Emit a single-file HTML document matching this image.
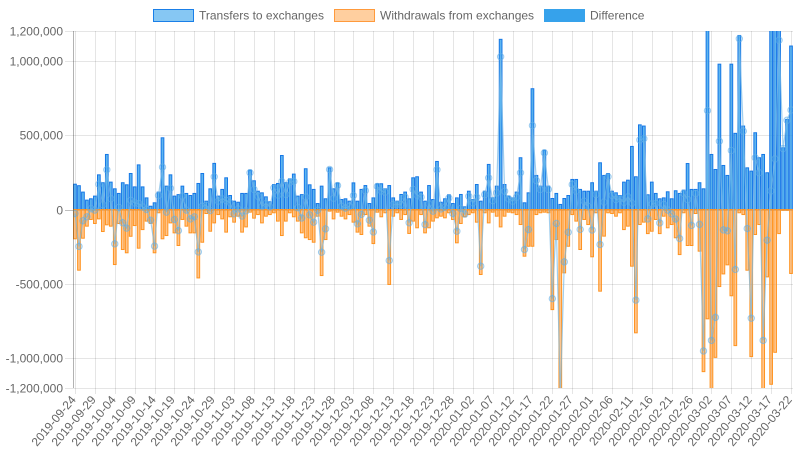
<!DOCTYPE html>
<html><head><meta charset="utf-8"><style>
html,body{margin:0;padding:0;background:#fff;}
svg{display:block;font-family:"Liberation Sans",sans-serif;}
</style></head><body>
<svg id="chart" width="798" height="450">
<g id="legend">
 <g><rect x="153.5" y="9.5" width="40" height="12" fill="rgba(54,162,235,0.6)" stroke="#1a7fe8" stroke-width="1"/><text x="199" y="19.5" font-size="12" fill="#666">Transfers to exchanges</text></g>
 <g><rect x="334.5" y="9.5" width="40" height="12" fill="rgba(255,159,64,0.5)" stroke="#ff9a3c" stroke-width="1"/><text x="380" y="19.5" font-size="12" fill="#666">Withdrawals from exchanges</text></g>
 <g><rect x="544.5" y="9.5" width="40" height="12" fill="#36a2eb" stroke="#36a2eb" stroke-width="1"/><text x="590" y="19.5" font-size="12" fill="#666">Difference</text></g>
</g>
<g id="grid"></g>
<g id="marks"></g>
<g id="axes"></g>
</svg>
<script>
const transfers=[170,160,117,63,72,90,233,180,370,184,139,108,180,166,242,152,300,152,78,22,45,117,482,157,233,90,100,157,108,94,108,175,
242,56,139,310,90,135,213,94,56,49,108,108,265,193,123,112,85,52,168,175,363,180,206,238,90,100,274,166,135,40,157,
72,280,139,179,67,72,56,179,56,135,161,40,78,173,173,139,161,78,56,101,
117,72,213,220,117,56,161,67,323,49,72,99,40,78,101,18,123,67,168,
56,123,303,78,157,1144,168,90,78,117,348,45,112,812,229,157,399,157,74,108,34,74,94,202,202,135,123,123,
180,123,314,229,242,123,112,94,184,197,424,220,569,561,99,184,108,72,78,119,72,126,108,130,309,135,
135,180,139,1400,370,269,977,296,229,977,512,1170,561,280,258,516,348,370,247,1300,1300,1300,415,605,1099];
const withdrawals=[197,408,193,112,67,94,63,148,103,112,370,94,269,291,180,108,260,135,78,94,291,22,197,175,90,157,242,67,112,157,157,460,
220,27,146,90,34,63,152,49,85,45,152,117,18,58,34,90,45,34,22,78,175,78,22,49,78,157,190,202,220,45,444,
202,11,63,18,45,63,34,85,152,168,34,112,229,18,49,22,504,45,22,67,
34,161,78,123,34,157,123,78,56,45,56,22,67,224,94,49,34,22,85,
437,22,90,18,45,117,45,18,22,34,101,314,247,247,34,22,18,22,673,202,1300,426,247,34,78,269,67,101,
318,22,549,179,22,27,45,22,135,112,381,829,101,85,162,146,67,162,45,123,101,190,303,22,242,242,
27,280,1090,735,1250,994,518,433,372,580,915,22,34,408,989,168,101,1250,453,1175,960,162,5,5,430];
const startDate=[2019,8,24];
const yTicks=[-1200000,-1000000,-500000,0,500000,1000000,1200000];
const yTickLabels=["-1,200,000","-1,000,000","-500,000","0","500,000","1,000,000","1,200,000"];

const NS="http://www.w3.org/2000/svg";
const L=73,R=793,T=31,B=388,YMIN=-1200000,YMAX=1200000;
const N=transfers.length;
const bw=(R-L)/N;
function xPos(i){return L+(i+0.5)*bw;}
function yPos(v){return B-(v-YMIN)/(YMAX-YMIN)*(B-T);}
function mk(tag,attrs,parent){const e=document.createElementNS(NS,tag);for(const k in attrs)e.setAttribute(k,attrs[k]);parent.appendChild(e);return e;}
const grid=document.getElementById('grid'),marks=document.getElementById('marks'),axes=document.getElementById('axes');
const svg=document.getElementById('chart');
const defs=mk('defs',{},svg);const cp=mk('clipPath',{id:'plotclip'},defs);mk('rect',{x:L,y:T,width:R-L,height:B-T},cp);
marks.setAttribute('clip-path','url(#plotclip)');

function fmtDate(i){const d=new Date(startDate[0],startDate[1],startDate[2]+i);const m=d.getMonth()+1,dd=d.getDate();return d.getFullYear()+'-'+(m<10?'0':'')+m+'-'+(dd<10?'0':'')+dd;}

yTicks.forEach((t,k)=>{const y=Math.round(yPos(t))+0.5;
 const g=mk('line',{x1:L-8,x2:R,y1:y,y2:y,stroke:t===0?'rgba(0,0,0,0.25)':'rgba(0,0,0,0.1)','stroke-width':1},grid);
 
 
 const tx=mk('text',{x:L-10,y:y+4,'text-anchor':'end','font-size':12,fill:'#666'},axes);
 tx.textContent=yTickLabels[k];
 
 
});
for(let i=0;i<N;i+=5){const x=Math.round(xPos(i))+0.5;
 const g=mk('line',{x1:x,x2:x,y1:T,y2:B+6,stroke:'rgba(0,0,0,0.1)','stroke-width':1},grid);
 
 
 const tx=mk('text',{x:x+1,y:B+12,'text-anchor':'end','font-size':12,fill:'#666',transform:`rotate(-50 ${x+1} ${B+12})`},axes);
 tx.textContent=fmtDate(i);
 
 
}
const ax=mk('line',{x1:L+0.5,x2:L+0.5,y1:T,y2:B,stroke:'rgba(0,0,0,0.3)','stroke-width':1},axes);



const w=bw*0.68;
for(let i=0;i<N;i++){
 const x=xPos(i)-w/2;
 const y0=yPos(0),y1=yPos(transfers[i]*1000);
 const b=mk('rect',{x:x,y:y1,width:w,height:y0-y1,fill:'rgba(54,162,235,0.8)',stroke:'#1577e6','stroke-width':1},marks);
 
 
 const y2=yPos(-withdrawals[i]*1000);
 const o=mk('rect',{x:x,y:y0,width:w,height:y2-y0,fill:'rgba(255,159,64,0.6)',stroke:'#ff9320','stroke-width':1},marks);
 
 
}
let pts=[];for(let i=0;i<N;i++)pts.push(xPos(i).toFixed(1)+','+yPos((transfers[i]-withdrawals[i])*1000).toFixed(1));
const line=mk('polyline',{points:pts.join(' '),fill:'none',stroke:'rgba(120,185,230,0.7)','stroke-width':1.2},marks);


for(let i=0;i<N;i++){
 const c=mk('circle',{cx:xPos(i),cy:yPos((transfers[i]-withdrawals[i])*1000),r:3.2,fill:'rgba(54,162,235,0.2)',stroke:'rgba(100,175,230,0.6)','stroke-width':1},marks);
 
 
}
</script>
</body></html>
